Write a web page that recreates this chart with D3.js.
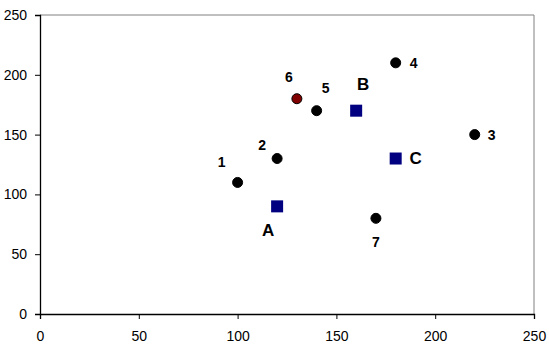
<!DOCTYPE html>
<html>
<head>
<meta charset="utf-8">
<script src="https://cdn.jsdelivr.net/npm/d3@7"></script>
<style>
  body { margin: 0; background: #fff; }
  text { font-family: Arial, "Liberation Sans", sans-serif; }
</style>
</head>
<body>
<script>
// points
var pointNames = ["1", "2", "3", "4", "5", "6", "7"];
var pointX = [100, 120, 220, 180, 140, 130, 170];
var pointY = [110, 130, 150, 210, 170, 180, 80];

// centres
var centreNames = ["A", "B", "C"];
var centreX = [120, 160, 180];
var centreY = [90, 170, 130];

var xTicks = [0, 50, 100, 150, 200, 250];
var yTicks = [0, 50, 100, 150, 200, 250];

// label offsets (px) from the marker
var labelOffset = {
  "1": [-16, -20], "2": [-15, -13], "3": [17, 0], "4": [18, 0],
  "5": [9, -23], "6": [-8, -22], "7": [0, 24],
  "A": [-9, 24], "B": [7, -27], "C": [20, 0]
};

var width = 549,
    height = 351,
    margin = {top: 15, right: 15, bottom: 37, left: 40};

var x = d3.scaleLinear().domain([0, 250])
    .range([margin.left, width - margin.right]);
var y = d3.scaleLinear().domain([0, 250])
    .range([height - margin.bottom, margin.top]);

var svg = d3.select("body").append("svg")
    .attr("width", width)
    .attr("height", height);

// plot area border (top/right grey)
svg.append("path")
    .attr("d", "M" + x(0) + "," + y(250) + "H" + x(250) + "V" + y(0))
    .attr("fill", "none")
    .attr("stroke", "#808080")
    .attr("stroke-width", 1);

var xAxis = svg.append("g")
    .attr("transform", "translate(0," + y(0) + ")")
    .call(d3.axisBottom(x).tickValues(xTicks).tickSize(5).tickPadding(12));
var yAxis = svg.append("g")
    .attr("transform", "translate(" + x(0) + ",0)")
    .call(d3.axisLeft(y).tickValues(yTicks).tickSize(5).tickPadding(8));

[xAxis, yAxis].forEach(function(g) {
  g.attr("font-size", 14);
  g.select(".domain").attr("stroke", "#000").attr("stroke-width", 1.3);
  g.selectAll(".tick line").attr("stroke", "#000");
  g.selectAll(".tick text").attr("fill", "#000");
});

var points = pointNames.map(function(n, i) {
  return {name: n, x: pointX[i], y: pointY[i]};
});
var centres = centreNames.map(function(n, i) {
  return {name: n, x: centreX[i], y: centreY[i]};
});

svg.selectAll("circle.pt")
    .data(points)
  .enter().append("circle")
    .attr("class", "pt")
    .attr("cx", function(d) { return x(d.x); })
    .attr("cy", function(d) { return y(d.y); })
    .attr("r", 5)
    .attr("fill", function(d) { return d.name === "6" ? "#800000" : "#000"; })
    .attr("stroke", "#000")
    .attr("stroke-width", 1);

svg.selectAll("rect.ct")
    .data(centres)
  .enter().append("rect")
    .attr("class", "ct")
    .attr("x", function(d) { return x(d.x) - 6; })
    .attr("y", function(d) { return y(d.y) - 6; })
    .attr("width", 12)
    .attr("height", 12)
    .attr("fill", "#000080");

svg.selectAll("text.plab")
    .data(points)
  .enter().append("text")
    .attr("class", "plab")
    .attr("x", function(d) { return x(d.x) + labelOffset[d.name][0]; })
    .attr("y", function(d) { return y(d.y) + labelOffset[d.name][1]; })
    .attr("text-anchor", "middle")
    .attr("dy", "0.35em")
    .attr("font-size", 14)
    .attr("font-weight", "bold")
    .text(function(d) { return d.name; });

svg.selectAll("text.clab")
    .data(centres)
  .enter().append("text")
    .attr("class", "clab")
    .attr("x", function(d) { return x(d.x) + labelOffset[d.name][0]; })
    .attr("y", function(d) { return y(d.y) + labelOffset[d.name][1]; })
    .attr("text-anchor", "middle")
    .attr("dy", "0.35em")
    .attr("font-size", 17)
    .attr("font-weight", "bold")
    .text(function(d) { return d.name; });
</script>
</body>
</html>
